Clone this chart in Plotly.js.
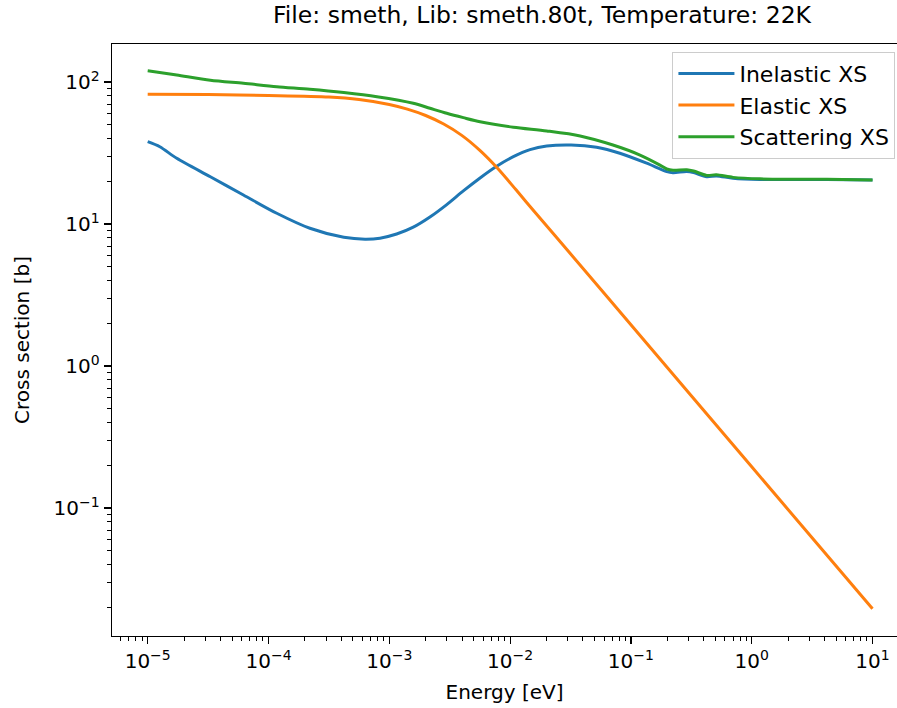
<!DOCTYPE html>
<html>
<head>
<meta charset="utf-8">
<script src="https://cdn.plot.ly/plotly-3.0.1.min.js"></script>
<style>
html,body{margin:0;padding:0;background:#fff;overflow:hidden;}
#chart{width:897px;height:708px;}
</style>
</head>
<body>
<div id="chart"></div>
<script>
// Inelastic XS
const inelasticE = [1.0e-5, 1.26e-5, 1.74e-5, 3.3e-5, 6.2e-5, 1.17e-4, 2.2e-4, 4.2e-4, 6.3e-4, 8.37e-4, 1.15e-3, 1.58e-3, 2.17e-3, 2.99e-3, 4.10e-3, 5.64e-3, 7.74e-3, 1.064e-2, 1.462e-2, 2.01e-2, 3.2e-2, 5.2e-2, 8.1e-2, 0.135, 0.198, 0.223, 0.29, 0.33, 0.424, 0.51, 0.70, 1.17, 4.2, 10];
const inelasticXS = [38, 35, 29, 21.5, 16, 11.9, 9.33, 8.06, 7.82, 7.95, 8.5, 9.5, 11.2, 13.7, 17.1, 21.1, 25.5, 29.8, 33.4, 35.4, 36, 34.7, 31.5, 26.8, 23.4, 23.0, 23.4, 23.0, 21.5, 21.8, 21.0, 20.6, 20.6, 20.4];
// Elastic XS
const elasticE = [1.0e-5, 3.16e-5, 1.0e-4, 3.16e-4, 5.62e-4, 1.0e-3, 1.41e-3, 2.0e-3, 2.82e-3, 3.98e-3, 5.62e-3, 7.94e-3, 1.12e-2, 1.58e-2, 3.16e-2, 0.1, 0.316, 1, 3.16, 10];
const elasticXS = [82, 81.5, 80.4, 78.5, 75.3, 69.5, 64.4, 58.1, 50.6, 42.1, 33.0, 24.5, 17.4, 12.3, 6.17, 1.95, 0.617, 0.195, 0.0617, 0.0195];
// Scattering XS
const scatterE = [1.0e-5, 1.74e-5, 3.3e-5, 6.2e-5, 1.17e-4, 2.2e-4, 4.2e-4, 7.9e-4, 1.58e-3, 2.17e-3, 2.99e-3, 4.1e-3, 5.64e-3, 1.064e-2, 2.01e-2, 3.8e-2, 7.1e-2, 0.119, 0.174, 0.198, 0.223, 0.29, 0.33, 0.424, 0.51, 0.70, 1.17, 4.2, 10];
const scatterXS = [120, 112, 103, 98, 92.7, 88.9, 84.2, 78.7, 70.8, 65.3, 60.2, 56.1, 52.5, 48.0, 45.2, 41.7, 36.0, 30.6, 26.0, 24.4, 23.9, 24.1, 23.6, 22.0, 22.2, 21.3, 20.8, 20.65, 20.42];

const seriesNames = ["Inelastic XS", "Elastic XS", "Scattering XS"];
const xMajor = [1e-5, 1e-4, 1e-3, 1e-2, 1e-1, 1, 10];
const xMajorText = ["10<sup>−5</sup>", "10<sup>−4</sup>", "10<sup>−3</sup>", "10<sup>−2</sup>", "10<sup>−1</sup>", "10<sup>0</sup>", "10<sup>1</sup>"];
const yMajor = [1e-1, 1, 10, 100];
const yMajorText = ["10<sup>−1</sup>", "10<sup>0</sup>", "10<sup>1</sup>", "10<sup>2</sup>"];

function minorTicks(lo, hi) {
  const out = [];
  for (let p = lo; p <= hi; p++) {
    for (let m = 2; m <= 9; m++) out.push(m * Math.pow(10, p));
  }
  return out;
}

const FONT = "DejaVu Sans, sans-serif";
const colors = ["#1f77b4", "#ff7f0e", "#2ca02c"];
const lineStyle = (c) => ({color: c, width: 3, shape: "spline", smoothing: 0.8});

const traces = [
  {x: inelasticE, y: inelasticXS, name: seriesNames[0], mode: "lines", line: lineStyle(colors[0])},
  {x: elasticE, y: elasticXS, name: seriesNames[1], mode: "lines", line: lineStyle(colors[1])},
  {x: scatterE, y: scatterXS, name: seriesNames[2], mode: "lines", line: lineStyle(colors[2])}
];

const layout = {
  width: 897, height: 708,
  margin: {l: 112, r: 0, t: 44, b: 72, pad: 0},
  paper_bgcolor: "#fff", plot_bgcolor: "#fff",
  font: {family: FONT, size: 20, color: "#000"},
  title: {text: "File: smeth, Lib: smeth.80t, Temperature: 22K", font: {family: FONT, size: 23.5, color: "#000"}, xref: "container", x: 542/897, xanchor: "center", yref: "container", y: 1 - 15/708, yanchor: "middle"},
  showlegend: true,
  legend: {x: 0.998, xanchor: "right", y: 0.987, yanchor: "top", bgcolor: "rgba(255,255,255,0.8)", bordercolor: "#cccccc", borderwidth: 1, itemwidth: 56, font: {family: FONT, size: 22, color: "#000"}},
  xaxis: {
    type: "log", range: [-5.2955, 1.2027], autorange: false,
    showgrid: false, zeroline: false,
    showline: true, linecolor: "#000", linewidth: 1.3, mirror: true,
    ticks: "outside", ticklen: 7, tickwidth: 1.2, tickcolor: "#000",
    tickmode: "array", tickvals: xMajor, ticktext: xMajorText,
    tickfont: {family: FONT, size: 20, color: "#000"},
    minor: {tickmode: "array", tickvals: minorTicks(-6, 1), ticks: "outside", ticklen: 4, tickwidth: 1, tickcolor: "#000", showgrid: false},
    title: {text: "Energy [eV]", font: {family: FONT, size: 20, color: "#000"}, standoff: 12}
  },
  yaxis: {
    type: "log", range: [-1.9014, 2.2676], autorange: false,
    showgrid: false, zeroline: false,
    showline: true, linecolor: "#000", linewidth: 1.3, mirror: false,
    ticks: "outside", ticklen: 7, tickwidth: 1.2, tickcolor: "#000",
    tickmode: "array", tickvals: yMajor, ticktext: yMajorText,
    tickfont: {family: FONT, size: 20, color: "#000"},
    minor: {tickmode: "array", tickvals: minorTicks(-2, 2), ticks: "outside", ticklen: 4, tickwidth: 1, tickcolor: "#000", showgrid: false},
    title: {text: "Cross section [b]", font: {family: FONT, size: 20, color: "#000"}, standoff: 18}
  }
};

Plotly.newPlot("chart", traces, layout, {displayModeBar: false, staticPlot: true});
</script>
</body>
</html>
